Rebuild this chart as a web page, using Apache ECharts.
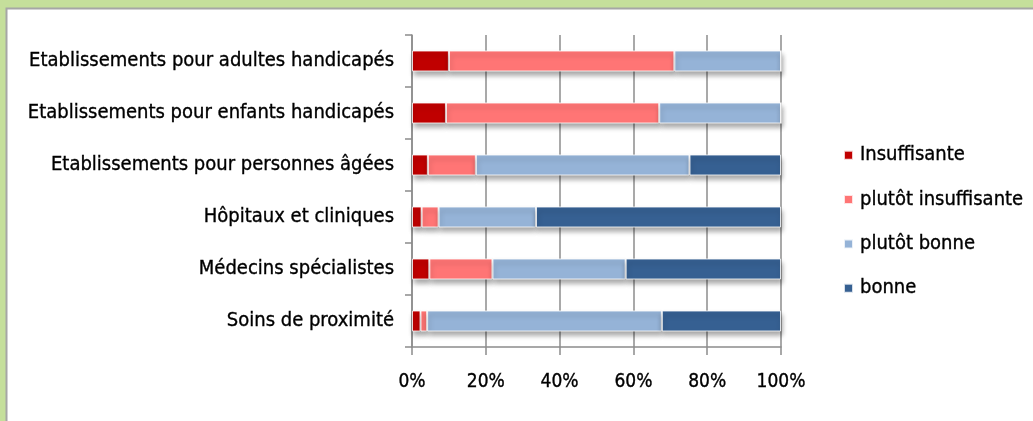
<!DOCTYPE html>
<html>
<head>
<meta charset="utf-8">
<script src="https://cdn.jsdelivr.net/npm/echarts@6/dist/echarts.min.js"></script>
<style>
  html, body { margin: 0; padding: 0; background: #c5df9b; }
  #chart { width: 1033px; height: 421px; }
</style>
</head>
<body>
<div id="chart"></div>
<script>
// Categories, top to bottom
const categories = [
  'Etablissements pour adultes handicapés',
  'Etablissements pour enfants handicapés',
  'Etablissements pour personnes âgées',
  'Hôpitaux et cliniques',
  'Médecins spécialistes',
  'Soins de proximité'
];

// Shares (%) per rating level, same order as categories
const insuffisante        = [10.0, 9.2, 4.3, 2.6, 4.7, 2.3];
const plutotInsuffisante  = [61.1, 57.8, 13.0, 4.6, 17.1, 1.8];
const plutotBonne         = [28.9, 33.0, 57.9, 26.4, 36.1, 63.6];
const bonne               = [0.0, 0.0, 24.8, 66.4, 42.1, 32.3];

const xTicks = [0, 20, 40, 60, 80, 100];

const seriesDefs = [
  { name: 'Insuffisante', data: insuffisante, color: '#c00000' },
  { name: 'plutôt insuffisante', data: plutotInsuffisante, color: '#ff7575' },
  { name: 'plutôt bonne', data: plutotBonne, color: '#95b3d7' },
  { name: 'bonne', data: bonne, color: '#366092' }
];

const FONT = '"DejaVu Sans Condensed", "Liberation Sans Narrow", sans-serif';
// slight outline gives the heavier look of the labels
const TEXT = {
  fontFamily: FONT, color: '#000',
  textBorderColor: '#000', textBorderWidth: 0.35
};

const chart = echarts.init(document.getElementById('chart'), null, { renderer: 'canvas' });

chart.setOption({
  backgroundColor: '#c5df9b',
  animation: false,
  graphic: [{
    type: 'rect',
    z: -10,
    shape: { x: 6.5, y: 8.5, width: 1040, height: 430 },
    style: { fill: '#ffffff', stroke: '#a6a6a6', lineWidth: 2 }
  }],
  grid: { left: 412, right: 252, top: 35, bottom: 74, containLabel: false },
  legend: {
    orient: 'vertical',
    left: 838,
    top: 140,
    itemGap: 24,
    itemWidth: 9,
    itemHeight: 9,
    icon: 'rect',
    textStyle: Object.assign({ fontSize: 20, padding: [0, 0, 0, 2] }, TEXT),
    data: seriesDefs.map(s => s.name)
  },
  xAxis: {
    type: 'value',
    min: 0,
    max: 100,
    interval: 20,
    axisLine: { show: true, lineStyle: { color: '#8c8c8c', width: 1.5 } },
    axisTick: { show: true, length: 8, lineStyle: { color: '#8c8c8c', width: 1.5 } },
    splitLine: { show: true, lineStyle: { color: '#8c8c8c', width: 1.5 } },
    axisLabel: Object.assign({
      formatter: v => v + '%',
      fontSize: 19, margin: 26
    }, TEXT),
    data: xTicks
  },
  yAxis: {
    type: 'category',
    inverse: true,
    data: categories,
    axisLine: { show: true, lineStyle: { color: '#8c8c8c', width: 1.5 } },
    axisTick: { show: true, length: 7, lineStyle: { color: '#8c8c8c', width: 1.5 } },
    axisLabel: Object.assign({ fontSize: 20, margin: 18 }, TEXT)
  },
  series: seriesDefs.map(s => ({
    name: s.name,
    type: 'bar',
    stack: 'total',
    barWidth: 21,
    data: s.data,
    itemStyle: {
      color: s.color,
      borderColor: 'rgba(255,255,255,0.8)',
      borderWidth: 1,
      shadowColor: 'rgba(0,0,0,0.35)',
      shadowBlur: 5,
      shadowOffsetX: 1,
      shadowOffsetY: 4
    }
  }))
});
</script>
</body>
</html>
